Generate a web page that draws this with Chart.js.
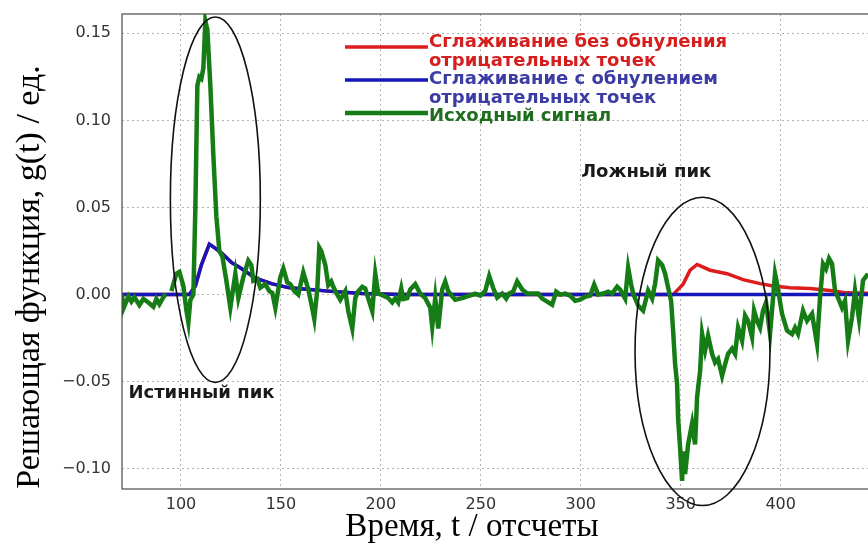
<!DOCTYPE html>
<html>
<head>
<meta charset="utf-8">
<script src="https://cdn.jsdelivr.net/npm/chart.js@4.4.1/dist/chart.umd.min.js"></script>
<style>
  html, body { margin: 0; padding: 0; background: #fff; }
  canvas { display: block; }
</style>
</head>
<body>
<canvas id="chart" width="868" height="547"></canvas>
<script>
// Исходный сигнал (время в отсчетах, значение решающей функции)
const tSignal = [70.5, 71.2, 73.7, 75.2, 76.7, 79.2, 81.2, 83.7, 86.2, 87.7, 89.2, 91.7, 92.7, null, 95.2,
  97.7, 99.2, 101.2, 102.7, 103.7, 104.7, 106.2, 107.2, 108.2, 109.2, 110.2, 111.2, 112.2, 113.2, 114.7,
  116.2, 117.7, 119.2, 120.7, 122.7, 124.7, 127.2, 128.7, 131.2, 133.7, 135.2, 136.2, 138.2, 139.7, 142.2,
  144.2, 145.7, 147.2, 149.7, 151.2, 153.2, 154.7, 156.7, 158.7, 161.2, 163.7, 165.7, 166.7, 168.2, 169.2,
  170.2, 172.2, 173.7, 175.2, 176.2, 178.2, 179.7, 182.2, 183.7, 185.7, 187.2, 188.7, 190.7, 192.2, 194.2,
  195.7, 197.2, 198.7, 200.7, 203.7, 205.7, 207.2, 208.7, 210.2, 211.2, 213.2, 214.7, 217.2, 219.7, 222.2,
  224.7, 225.7, 227.2, 228.7, 230.7, 232.2, 233.7, 235.7, 237.2, 240.7, 243.2, 247.2, 249.7, 252.2, 254.2,
  256.2, 258.2, 260.7, 262.7, 264.2, 266.2, 268.2, 270.7, 273.2, 276.2, 278.7, 280.7, 283.2, 285.7, 287.7,
  289.7, 292.2, 294.7, 297.2, 299.7, 302.2, 304.7, 306.7, 308.7, 311.2, 313.7, 315.7, 318.2, 319.7, 322.2,
  323.7, 325.2, 326.2, 328.7, 331.2, 333.7, 335.7, 337.2, 338.7, 340.7, 342.2, 343.7, 345.2, 346.2, 347.2,
  348.2, 348.7, 349.7, 350.7, 351.2, 352.2, 353.7, 355.7, 357.2, 358.2, 358.7, 359.7, 360.7, 362.2, 363.7,
  365.7, 367.2, 368.7, 370.7, 372.2, 373.7, 375.7, 377.2, 378.7, 380.7, 382.2, 383.7, 385.7, 386.7, 388.2,
  389.7, 391.2, 392.7, 394.7, 397.2, 398.2, 400.7, 403.2, 405.7, 407.2, 408.7, 411.2, 413.2, 415.7, 418.2,
  419.7, 421.2, 422.7, 424.2, 425.7, 427.2, 428.7, 430.7, 432.2, 433.7, 435.7, 437.2, 439.2, 441.2, 443.7];
const signal = [0.000, -0.008, -0.001, -0.004, -0.0015, -0.006, -0.0025, -0.0045, -0.007, -0.0025, -0.0055, -0.0005, -0.0005, null, 0.002,
  0.012, 0.013, 0.005, -0.009, -0.016, -0.003, 0.000, 0.05, 0.12, 0.125, 0.124, 0.13, 0.157, 0.152, 0.12,
  0.08, 0.045, 0.025, 0.022, 0.008, -0.0075, 0.012, -0.002, 0.010, 0.0195, 0.017, 0.008, 0.009, 0.004, 0.006,
  0.002, 0.001, -0.0075, 0.010, 0.015, 0.007, 0.006, 0.002, 0.000, 0.0127, 0.003, -0.008, -0.014, 0.003, 0.027,
  0.025, 0.017, 0.0054, 0.0075, 0.0045, 0.000, -0.003, 0.002, -0.0095, -0.0195, -0.002, 0.002, 0.0045, 0.0035, -0.004,
  -0.0095, 0.012, 0.0006, -0.0003, -0.002, -0.0045, -0.002, -0.0045, 0.0035, -0.0025, -0.002, 0.003, 0.006, 0.0006, -0.002,
  -0.0075, -0.0185, -0.002, -0.0195, 0.003, 0.0075, 0.002, -0.001, -0.003, -0.002, -0.001, 0.0005, -0.0006, 0.002, 0.0106,
  0.0038, -0.0017, 0.0006, -0.0023, 0.0006, 0.0017, 0.0075, 0.0029, 0.0006, 0.0006, 0.0006, -0.0023, -0.004, -0.0058, 0.0017,
  0.000, 0.0006, -0.0006, -0.0035, -0.0029, -0.0012, -0.0006, 0.0058, 0.000, 0.0006, 0.0017, 0.0006, 0.0046, 0.0029, -0.0023,
  0.0154, 0.0058, 0.0006, -0.0063, -0.0092, 0.0023, -0.0023, 0.0063, 0.0196, 0.017, 0.012, 0.004, -0.0035, -0.0207, -0.040,
  -0.0513, -0.071, -0.088, -0.107, -0.090, -0.103, -0.086, -0.074, -0.086, -0.059, -0.0536, -0.044, -0.0225, -0.032, -0.0236,
  -0.034, -0.039, -0.037, -0.0467, -0.040, -0.034, -0.031, -0.034, -0.019, -0.0265, -0.012, -0.015, -0.0245, -0.0092, -0.015,
  -0.019, -0.0092, -0.0046, -0.0225, 0.012, 0.0063, -0.011, -0.0207, -0.0227, -0.019, -0.0225, -0.0092, -0.015, -0.011, -0.0283,
  -0.0017, 0.0177, 0.0148, 0.0207, 0.0177, 0.0023, -0.0017, -0.0075, -0.0035, -0.0265, -0.013, 0.0023, -0.014, 0.0081, 0.012];

// Сглаживание с обнулением отрицательных точек
const tZeroed = [70.5, 104.2, 107.2, 110.2, 114.2, 116.7, 120.2, 125.2, 130.2, 136.7, 145.2, 153.7, 160.2, 173.7, 190.7, 209.7, 443.7];
const smoothZeroed = [0, 0, 0.005, 0.017, 0.029, 0.027, 0.024, 0.0185, 0.015, 0.0098, 0.0063, 0.004, 0.0033, 0.002, 0.0006, 0, 0];

// Сглаживание без обнуления отрицательных точек
const tRaw = [70.5, 104.2, 107.2, 110.2, 114.2, 116.7, 120.2, 125.2, 130.2, 136.7, 145.2, 153.7, 160.2, 173.7, 190.7, 209.7,
  346.2, 351.2, 354.7, 358.2, 364.7, 373.2, 381.2, 389.7, 396.2, 404.7, 414.7, 424.7, 433.2, 443.7];
const smoothRaw = [0, 0, 0.005, 0.017, 0.029, 0.027, 0.024, 0.0185, 0.015, 0.0098, 0.0063, 0.004, 0.0033, 0.002, 0.0006, 0,
  0, 0.006, 0.014, 0.0173, 0.014, 0.012, 0.0086, 0.0063, 0.005, 0.004, 0.0035, 0.0023, 0.001, 0.0008];

const xTicks = [100, 150, 200, 250, 300, 350, 400];
const yTicks = [-0.10, -0.05, 0.00, 0.05, 0.10, 0.15];

const legendLabels = [
  ['Сглаживание без обнуления', 'отрицательных точек'],
  ['Сглаживание с обнулением', 'отрицательных точек'],
  ['Исходный сигнал']
];
const xTitle = 'Время, t / отсчеты';
const yTitle = 'Решающая функция, g(t) / ед.';

// ellipses around the peaks: [t center, g center, t radius, g radius]
const peakEllipses = [[117.2, 0.0545, 22.5, 0.1049], [360.9, -0.0326, 33.75, 0.0885]];
const peakNotes = [['Истинный пик', 73.7, -0.0567], ['Ложный пик', 300.2, 0.0703]];

const RED = 'rgb(222, 28, 28)';
const BLUE = 'rgb(22, 22, 185)';
const GREEN = 'rgb(22, 125, 22)';

function toPoints(xs, ys) {
  return xs.map((x, i) => ({ x: x, y: ys[i] }));
}

function fmtTick(v) {
  return v.toFixed(2).replace('-', '\u2212');
}

// titles, legend, ellipses and notes drawn on top
const overlay = {
  id: 'overlay',
  afterDraw(chart) {
    const ctx = chart.ctx;
    const area = chart.chartArea;
    const xs = chart.scales.x;
    const ys = chart.scales.y;

    ctx.save();
    // frame
    ctx.strokeStyle = '#4a4a4a';
    ctx.lineWidth = 1.2;
    ctx.strokeRect(area.left, area.top, area.right - area.left + 2, area.bottom - area.top);

    // ellipses
    ctx.strokeStyle = '#111';
    ctx.lineWidth = 1.6;
    peakEllipses.forEach(e => {
      const cx = xs.getPixelForValue(e[0]);
      const cy = ys.getPixelForValue(e[1]);
      const rx = Math.abs(xs.getPixelForValue(e[0] + e[2]) - cx);
      const ry = Math.abs(ys.getPixelForValue(e[1] + e[3]) - cy);
      ctx.beginPath();
      ctx.ellipse(cx, cy, rx, ry, 0, 0, Math.PI * 2);
      ctx.stroke();
    });

    // notes
    ctx.fillStyle = '#1a1a1a';
    ctx.font = 'bold 18px "DejaVu Sans"';
    ctx.textBaseline = 'middle';
    ctx.textAlign = 'left';
    peakNotes.forEach(n => {
      ctx.fillText(n[0], xs.getPixelForValue(n[1]), ys.getPixelForValue(n[2]));
    });

    // legend
    const colors = [RED, BLUE, GREEN];
    const textColors = ['rgb(214, 30, 30)', 'rgb(60, 60, 165)', 'rgb(30, 110, 30)'];
    const lineY = [47, 80, 113];
    const textY = [[42, 61], [79, 98], [116]];
    ctx.font = 'bold 18px "DejaVu Sans"';
    legendLabels.forEach((lines, i) => {
      ctx.strokeStyle = colors[i];
      ctx.lineWidth = i === 2 ? 4.5 : 3.5;
      ctx.beginPath();
      ctx.moveTo(345, lineY[i]);
      ctx.lineTo(428, lineY[i]);
      ctx.stroke();
      ctx.fillStyle = textColors[i];
      lines.forEach((s, j) => ctx.fillText(s, 429, textY[i][j]));
    });

    // axis titles
    ctx.fillStyle = '#000';
    ctx.font = '33px "Liberation Serif"';
    ctx.textAlign = 'center';
    ctx.fillText(xTitle, 472, 527);
    ctx.translate(30, 277);
    ctx.rotate(-Math.PI / 2);
    ctx.font = '34px "Liberation Serif"';
    ctx.fillText(yTitle, 0, 0);
    ctx.restore();
  }
};

new Chart(document.getElementById('chart'), {
  type: 'line',
  data: {
    datasets: [
      {
        label: 'Исходный сигнал',
        data: toPoints(tSignal, signal),
        borderColor: GREEN,
        borderWidth: 4.5,
        pointRadius: 0,
        tension: 0,
        spanGaps: false,
        order: 0
      },
      {
        label: 'Сглаживание с обнулением отрицательных точек',
        data: toPoints(tZeroed, smoothZeroed),
        borderColor: BLUE,
        borderWidth: 3.5,
        pointRadius: 0,
        tension: 0,
        order: 1
      },
      {
        label: 'Сглаживание без обнуления отрицательных точек',
        data: toPoints(tRaw, smoothRaw),
        borderColor: RED,
        borderWidth: 3.5,
        pointRadius: 0,
        tension: 0,
        order: 2
      }
    ]
  },
  options: {
    responsive: false,
    animation: false,
    layout: { padding: { top: 14, left: 0, right: 0, bottom: 0 } },
    plugins: {
      legend: { display: false },
      tooltip: { enabled: false }
    },
    scales: {
      x: {
        type: 'linear',
        min: 70.5,
        max: 443.7,
        afterBuildTicks: function(scale) {
          scale.ticks = xTicks.map(v => ({ value: v }));
        },
        afterFit: function(scale) {
          scale.height = 58;
          scale.paddingLeft = 0;
          scale.paddingRight = 0;
        },
        grid: {
          color: '#b4b4b4',
          lineWidth: 1,
          drawTicks: false
        },
        border: { display: false, dash: [2, 3] },
        ticks: {
          padding: 6,
          maxRotation: 0,
          color: '#333',
          font: { family: 'DejaVu Sans', size: 16 },
          callback: function(value) {
            return String(value);
          }
        }
      },
      y: {
        min: -0.1116,
        max: 0.1611,
        afterBuildTicks: function(scale) {
          scale.ticks = yTicks.map(v => ({ value: v }));
        },
        afterFit: function(scale) {
          scale.width = 122;
          scale.paddingTop = 0;
          scale.paddingBottom = 0;
        },
        grid: {
          color: '#b4b4b4',
          lineWidth: 1,
          drawTicks: false
        },
        border: { display: false, dash: [2, 3] },
        ticks: {
          padding: 11,
          color: '#333',
          font: { family: 'DejaVu Sans', size: 16 },
          callback: function(value) {
            return fmtTick(value);
          }
        }
      }
    }
  },
  plugins: [overlay]
});
</script>
</body>
</html>
